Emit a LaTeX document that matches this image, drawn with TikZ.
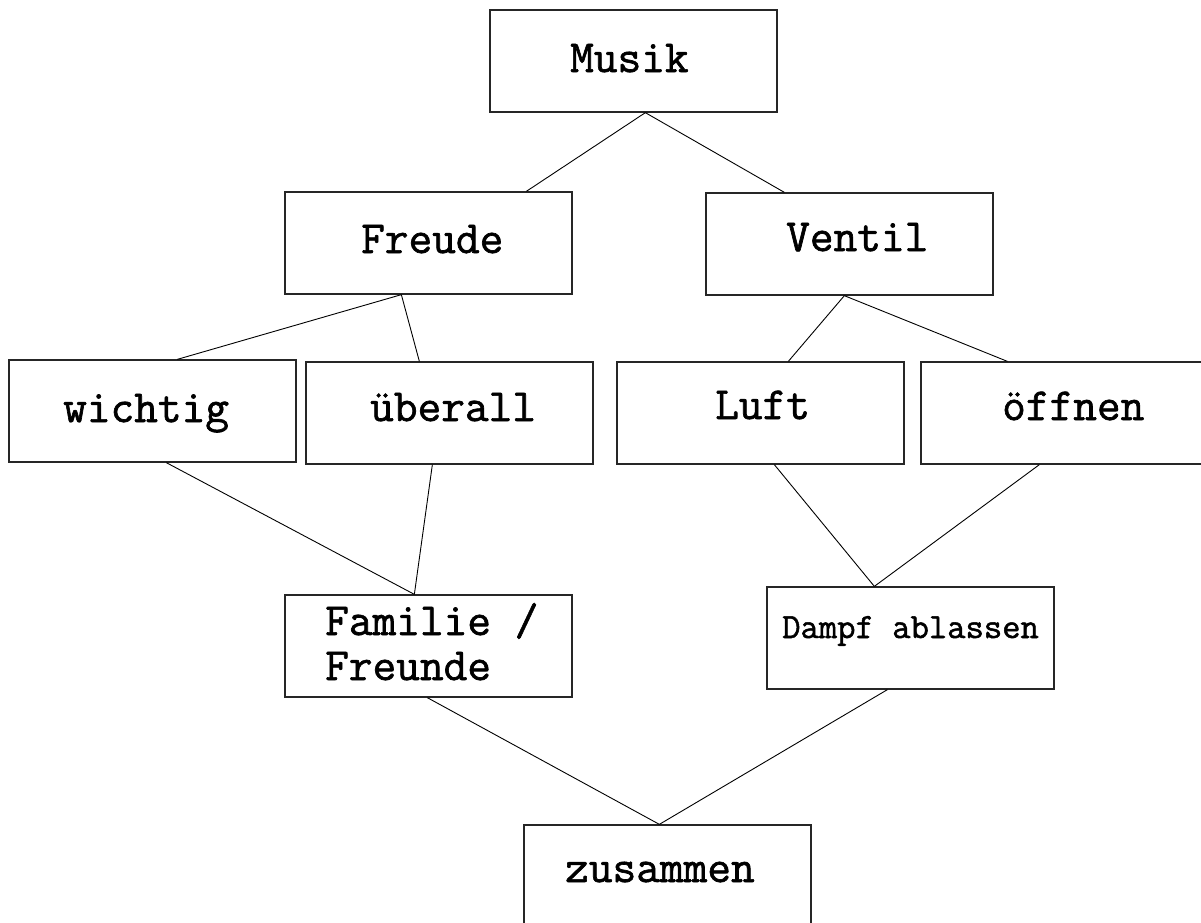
\documentclass[tikz,border=0pt]{standalone}
\usepackage{fontspec}
\newfontfamily\typew{Latin Modern Mono}[FakeBold=1.4]
\usetikzlibrary{calc}
\tikzset{
  box/.style={draw=black!85, line width=1.3pt, minimum width=287pt, minimum height=102pt, inner sep=0pt, fill=none},
  lbl/.style={anchor=base west, inner sep=0pt, font=\typew\fontsize{46}{54}\selectfont},
  lblsmall/.style={anchor=base west, inner sep=0pt, font=\typew\fontsize{35.6}{42}\selectfont},
  conn/.style={draw=black, line width=0.9pt}
}
\begin{document}
\begin{tikzpicture}[x=1pt,y=-1pt]
\useasboundingbox[fill=white] (0,0) rectangle (1201,922);
% boxes
\node[box] (musik)    at (633.5,61)  {};
\node[box] (freude)   at (428.5,243) {};
\node[box] (ventil)   at (849.5,244) {};
\node[box] (wichtig)  at (152.5,411) {};
\node[box] (ueberall) at (449.5,413) {};
\node[box] (luft)     at (760.5,413) {};
\node[box] (oeffnen)  at (1064.5,413) {};
\node[box] (familie)  at (428.5,646) {};
\node[box] (dampf)    at (910.5,638) {};
\node[box] (zusammen) at (667.5,876) {};
% labels
\node[lbl] (tmusik)    at (570,72)   {Musik};
\node[lbl] (tfreude)   at (361,253)  {Freude};
\node[lbl] (tventil)   at (786,251)  {Ventil};
\node[lbl] (twichtig)  at (63,422)   {wichtig};
\node[lbl] (tueberall) at (370,421)  {überall};
\node[lbl] (tluft)     at (715,419)  {Luft};
\node[lbl] (toeffnen)  at (1002,420) {öffnen};
\node[lbl] (tfamilie)  at (325,635)  {Familie /};
\node[lbl] (tfreunde)  at (325,680)  {Freunde};
\node[lblsmall] (tdampf) at (782,638) {Dampf ablassen};
\node[lbl] (tzusammen) at (565,882)  {zusammen};
% junction coordinates
\coordinate (mB)  at ($(musik.south west)+(156,0)$);
\coordinate (fT)  at ($(freude.north west)+(242,0)$);
\coordinate (vT)  at ($(ventil.north west)+(79,0)$);
\coordinate (fB)  at ($(freude.south west)+(117,0)$);
\coordinate (wT)  at ($(wichtig.north west)+(169,0)$);
\coordinate (uT)  at ($(ueberall.north west)+(114,0)$);
\coordinate (vB)  at ($(ventil.south west)+(139,0)$);
\coordinate (lT)  at ($(luft.north west)+(172,0)$);
\coordinate (oT)  at ($(oeffnen.north west)+(87,0)$);
\coordinate (wB)  at ($(wichtig.south west)+(158,0)$);
\coordinate (uB)  at ($(ueberall.south west)+(127,0)$);
\coordinate (faT) at ($(familie.north west)+(130,0)$);
\coordinate (lB)  at ($(luft.south west)+(158,0)$);
\coordinate (oB)  at ($(oeffnen.south west)+(119,0)$);
\coordinate (dT)  at ($(dampf.north west)+(108,0)$);
\coordinate (faB) at ($(familie.south west)+(143,0)$);
\coordinate (dB)  at ($(dampf.south west)+(121,0)$);
\coordinate (zT)  at ($(zusammen.north west)+(136,0)$);
% connectors
\draw[conn] (mB) -- (fT);
\draw[conn] (mB) -- (vT);
\draw[conn] (fB) -- (wT);
\draw[conn] (fB) -- (uT);
\draw[conn] (vB) -- (lT);
\draw[conn] (vB) -- (oT);
\draw[conn] (wB) -- (faT);
\draw[conn] (uB) -- (faT);
\draw[conn] (lB) -- (dT);
\draw[conn] (oB) -- (dT);
\draw[conn] (faB) -- (zT);
\draw[conn] (dB) -- (zT);
\end{tikzpicture}
\end{document}
